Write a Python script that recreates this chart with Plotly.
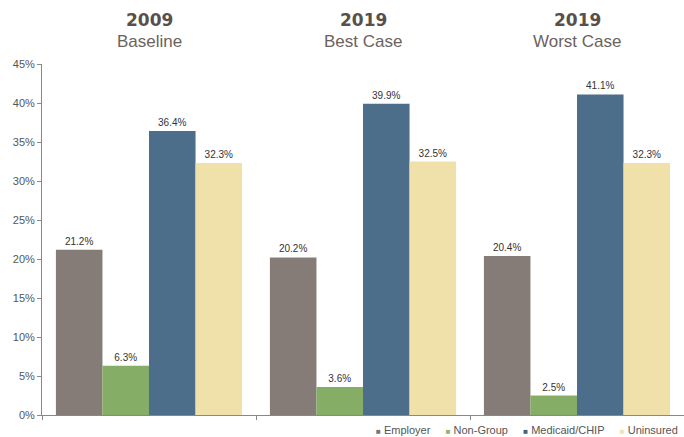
import plotly.graph_objects as go

groups = ["2009 Baseline", "2019 Best Case", "2019 Worst Case"]
group_years = ["2009", "2019", "2019"]
group_names = ["Baseline", "Best Case", "Worst Case"]
series_names = ["Employer", "Non-Group", "Medicaid/CHIP", "Uninsured"]
employer = [21.2, 20.2, 20.4]
non_group = [6.3, 3.6, 2.5]
medicaid = [36.4, 39.9, 41.1]
uninsured = [32.3, 32.5, 32.3]
colors = ["#857c78", "#86ad66", "#4d6e8a", "#efe1a9"]
legend_sq = ["#7d7572", "#8fb872", "#3f6482", "#efe3b0"]

fig = go.Figure()
for name, vals, col in zip(series_names, [employer, non_group, medicaid, uninsured], colors):
    fig.add_trace(go.Bar(
        x=groups, y=vals, name=name,
        marker=dict(color=col, line=dict(width=0)),
        text=[f"{v:.1f}%" for v in vals], textposition="outside",
        textfont=dict(size=10, color="#333333"), cliponaxis=False,
    ))

for g, yr, nm in zip(groups, group_years, group_names):
    fig.add_annotation(x=g, xref="x", y=1.125, yref="paper", yanchor="middle",
                       text=f"<b>{yr}</b>", showarrow=False,
                       font=dict(size=17, color="#5a4f4a", family="DejaVu Sans"))
    fig.add_annotation(x=g, xref="x", y=1.063, yref="paper", yanchor="middle", text=nm,
                       showarrow=False, font=dict(size=17, color="#6b625e"))

legend_text = "&nbsp;&nbsp;&nbsp;&nbsp;&nbsp;".join(
    f"<span style='color:{c};font-size:8px'>■</span>&nbsp;{n}" for n, c in zip(series_names, legend_sq)
)
fig.add_annotation(x=1, xref="paper", xanchor="right", y=-0.043, yref="paper",
                   yanchor="middle", text=legend_text, showarrow=False,
                   font=dict(size=11, color="#555555"), xshift=-4)

fig.update_layout(
    width=684, height=437,
    margin=dict(l=42, r=0, t=64, b=22, autoexpand=False),
    barmode="group", bargap=0.13, bargroupgap=0,
    plot_bgcolor="white", paper_bgcolor="white",
    font=dict(family="Liberation Sans, Arial, sans-serif", color="#444444"),
    showlegend=False,
    uniformtext=dict(minsize=10, mode="show"),
)
fig.update_yaxes(range=[0, 45], dtick=5, ticksuffix="%", showgrid=False,
                 showline=True, linecolor="#888888", linewidth=1,
                 ticks="outside", ticklen=4, tickcolor="#888888",
                 tickfont=dict(size=11, color="#555555"), zeroline=False, automargin=False)
fig.update_xaxes(showticklabels=False, showline=True, linecolor="#888888", linewidth=1,
                 ticks="outside", tickson="boundaries", ticklen=4, tickcolor="#888888",
                 showgrid=False, automargin=False)

fig.write_html("out.html", config={"displayModeBar": False},
               post_script="document.body.style.margin='0';document.body.style.overflow='hidden';")
